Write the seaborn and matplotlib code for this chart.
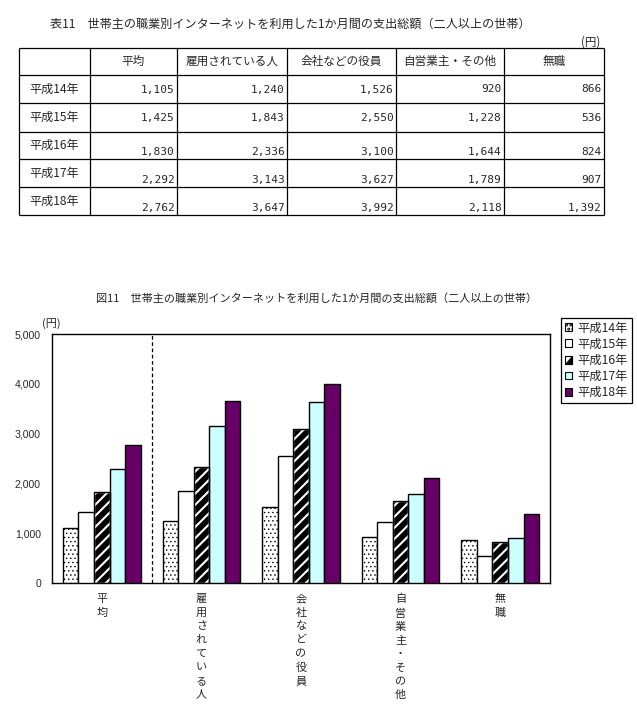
import numpy as np
import pandas as pd
import matplotlib
matplotlib.use('Agg')
import matplotlib.pyplot as plt
import matplotlib.patches as mpatches
import seaborn as sns

# ---------------- data ----------------
years = ['平成14年', '平成15年', '平成16年', '平成17年', '平成18年']
categories = ['平均', '雇用されている人', '会社などの役員', '自営業主・その他', '無職']
v_h14 = [1105, 1240, 1526, 920, 866]
v_h15 = [1425, 1843, 2550, 1228, 536]
v_h16 = [1830, 2336, 3100, 1644, 824]
v_h17 = [2292, 3143, 3627, 1789, 907]
v_h18 = [2762, 3647, 3992, 2118, 1392]
yticks = [0, 1000, 2000, 3000, 4000, 5000]
ytick_labels = ['0', '1,000', '2,000', '3,000', '4,000', '5,000']
table_title = '表11　世帯主の職業別インターネットを利用した1か月間の支出総額（二人以上の世帯）'
chart_title = '図11　世帯主の職業別インターネットを利用した1か月間の支出総額（二人以上の世帯）'
unit = '(円)'

series = [v_h14, v_h15, v_h16, v_h17, v_h18]
df = pd.DataFrame({
    'category': [c for _ in years for c in categories],
    'year': [y for y in years for _ in categories],
    'value': [v for s in series for v in s],
})

sns.set_style('white')
CJK = 'Noto Sans CJK JP'
plt.rcParams['font.family'] = [CJK, 'DejaVu Sans']
plt.rcParams['hatch.linewidth'] = 1.5

W, H = 637, 724
fig = plt.figure(figsize=(W / 100, H / 100), dpi=100)

# ---------------- table ----------------
tax = fig.add_axes([0, 0, 1, 1])
tax.set_xlim(0, W)
tax.set_ylim(H, 0)
tax.axis('off')

fig.text(50 / W, 1 - 24 / H, table_title, ha='left', va='center', fontsize=8.7)
fig.text(600 / W, 1 - 42 / H, unit, ha='right', va='center', fontsize=8.3)

col_x = [19, 90, 177, 287, 396, 504, 604]
row_y = [48, 75, 103, 132, 159, 187, 215]
tax.hlines(row_y, col_x[0], col_x[-1], color='black', lw=0.9)
tax.vlines(col_x, row_y[0], row_y[-1], color='black', lw=0.9)

for j, cat in enumerate(categories):
    cx = (col_x[j + 1] + col_x[j + 2]) / 2
    tax.text(cx, (row_y[0] + row_y[1]) / 2, cat, ha='center', va='center', fontsize=8.4)
for i, yr in enumerate(years):
    ytop, ybot = row_y[i + 1], row_y[i + 2]
    tax.text((col_x[0] + col_x[1]) / 2, (ytop + ybot) / 2, yr, ha='center', va='center', fontsize=8.7)
    for j in range(len(categories)):
        val = f'{series[i][j]:,}'
        xr = col_x[j + 2] - 2.5
        if i < 2:
            tax.text(xr, (ytop + ybot) / 2 + 0.5, val, ha='right', va='center',
                     fontsize=8, family='DejaVu Sans Mono')
        else:
            tax.text(xr, ybot - 2, val, ha='right', va='bottom',
                     fontsize=8, family='DejaVu Sans Mono')

# ---------------- chart ----------------
fig.text(96 / W, 1 - 298 / H, chart_title, ha='left', va='center', fontsize=8.0)

ax = fig.add_axes([52 / W, 1 - 583 / H, 498 / W, 249 / H])
palette = {years[0]: 'white', years[1]: 'white', years[2]: 'black',
           years[3]: '#CCFFFF', years[4]: '#660066'}
sns.barplot(data=df, x='category', y='value', hue='year', order=categories,
            hue_order=years, palette=palette, width=0.78, edgecolor='black',
            linewidth=1, legend=False, saturation=1, ax=ax, zorder=3)


def thin_hatch(p, lw):
    try:
        p.set_hatch_linewidth(lw)
    except AttributeError:
        pass


for k, cont in enumerate(ax.containers):
    for bar in cont:
        if k == 0:
            bar.set_hatch('....')
            thin_hatch(bar, 0.5)
        elif k == 2:
            bar.set_facecolor('black')
            bar.set_edgecolor('white')
            bar.set_hatch('///')
            ax.add_patch(mpatches.Rectangle(bar.get_xy(), bar.get_width(), bar.get_height(),
                                            fill=False, edgecolor='black', lw=1, zorder=4))

ax.set_xlim(-0.5, len(categories) - 0.5)
ax.set_ylim(0, 5000)
ax.set_yticks(yticks)
ax.set_yticklabels(ytick_labels, family='Liberation Sans', fontsize=7.6)
ax.set_xticks(range(len(categories)))
ax.set_xticklabels(['\n'.join(list(c)) for c in categories], fontsize=8, linespacing=1.45)
ax.set_xticks(np.arange(-0.5, len(categories), 1.0), minor=True)
ax.tick_params(axis='x', which='major', length=0, pad=8)
ax.tick_params(axis='x', which='minor', length=3, width=0.8, direction='out', color='black')
ax.tick_params(axis='y', length=0, pad=8)
ax.set_xlabel('')
ax.set_ylabel('')
for sp in ax.spines.values():
    sp.set_visible(True)
    sp.set_color('black')
    sp.set_linewidth(1)
ax.axvline(0.5, color='black', lw=0.9, dashes=(3, 2), zorder=2)

fig.text(42 / W, 1 - 324 / H, unit, ha='left', va='center', fontsize=8)


# ---------------- legend ----------------
class HalfHandler:
    def legend_artist(self, legend, orig_handle, fontsize, handlebox):
        x0, y0 = handlebox.xdescent, handlebox.ydescent
        w, h = handlebox.width, handlebox.height
        tr = handlebox.get_transform()
        rect = mpatches.Rectangle([x0, y0], w, h, facecolor='white', edgecolor='black',
                                  lw=0.8, transform=tr)
        tri = mpatches.Polygon([[x0, y0], [x0 + w, y0], [x0 + w, y0 + h]], closed=True,
                               facecolor='black', edgecolor='black', lw=0.8, transform=tr)
        handlebox.add_artist(rect)
        handlebox.add_artist(tri)
        return rect


class HalfPatch(mpatches.Patch):
    pass


h14 = mpatches.Patch(facecolor='white', edgecolor='black', hatch='....', lw=0.8)
thin_hatch(h14, 0.5)
h15 = mpatches.Patch(facecolor='white', edgecolor='black', lw=0.8)
h16 = HalfPatch()
h17 = mpatches.Patch(facecolor='#CCFFFF', edgecolor='black', lw=0.8)
h18 = mpatches.Patch(facecolor='#660066', edgecolor='black', lw=0.8)
leg = fig.legend([h14, h15, h16, h17, h18], years, loc='upper left',
                 bbox_to_anchor=(561 / W, 1 - 318 / H), borderaxespad=0,
                 fancybox=False, frameon=True, edgecolor='black', framealpha=1,
                 fontsize=8.8, handlelength=0.62, handleheight=0.62, handletextpad=0.45,
                 labelspacing=0.25, borderpad=0.3,
                 handler_map={HalfPatch: HalfHandler()})
leg.get_frame().set_linewidth(0.9)

fig.savefig('out.png', dpi=100)
